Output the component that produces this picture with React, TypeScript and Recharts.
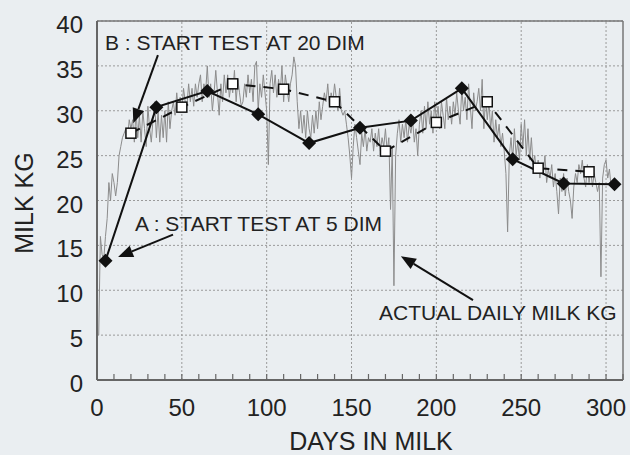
import React from 'react';
import { LineChart, Line, XAxis, YAxis, CartesianGrid, ReferenceLine } from 'recharts';

// actual daily milk kg, day 1..303
const dailyKg = [
  5, 16, 14, 13.5, 16, 18, 22, 20, 23, 22, 20.5, 22, 25, 26, 27, 27.5, 28, 27, 29, 28,
  29, 26.5, 30, 27, 29.5, 26.5, 30, 28, 26, 30.5, 28, 26.5, 29, 31, 27, 30, 26.5, 29.5, 27, 30, 26.5, 31, 28, 30,
  31, 29.5, 32, 30, 31.5, 30, 32.5, 31, 30.5, 33, 31, 32.5, 30.5, 33, 31.5, 33,
  34, 31, 33, 32, 35, 31.5, 33, 30, 32, 34.5, 32, 29.5, 33, 31, 34,
  32, 34, 31.5, 33, 32, 34.5, 31, 33.5, 32, 30.5, 31, 33, 31.5, 34, 32,
  33.5, 31, 35, 35.5, 30, 33, 31.5, 34, 32, 30, 24, 33, 34.5, 32, 34,
  31.5, 33.5, 32, 35, 31, 34, 32.5, 31, 33, 34, 36, 35, 31, 28, 30,
  27.5, 29.5, 27, 30, 28, 27, 29.5, 27.5, 30, 28, 31, 29, 30.5, 32, 31,
  33, 30.5, 32, 31, 33, 31.5, 30, 32.5, 30, 29.5, 30, 28.5, 27, 25, 22.5,
  26, 28.5, 27, 25.5, 24, 27.5, 26, 28, 25.5, 27, 26.5, 28, 25.5, 27.5, 26,
  28, 25.5, 27, 26, 28, 25.5, 27, 19, 26, 10.5, 25, 27.5, 29, 26.5, 28.5,
  27, 29, 26.5, 28.5, 27.5, 29, 26.5, 28, 25, 28.5, 30, 27.5, 30.5, 28, 31,
  28.5, 30, 27.5, 31, 29, 30.5, 28, 31, 29.5, 28, 31.5, 29, 30.5, 28.5, 31,
  29.5, 32, 30, 28.5, 32.5, 30, 31.5, 29, 33, 30.5, 28, 32, 30, 31, 32.5,
  30, 33.5, 28, 31.5, 29, 31, 28, 30, 26.5, 29, 27, 28.5, 26, 27.5, 25.5,
  23, 16.5, 25, 27, 24.5, 28, 25, 26.5, 24.5, 28.5, 26, 29, 25, 28, 24.5,
  27, 24, 25, 23, 24.5, 22.5, 24, 23, 25, 22, 23.5, 22.5, 24, 21.5, 23,
  21, 18.5, 22.5, 21, 23, 20.5, 22.5, 21, 20, 18, 21.5, 23, 22, 24, 23,
  24.5, 22.5, 21.5, 24, 22, 23.5, 21.5, 23, 22, 21, 22, 11.5, 22.5, 24, 24.5,
  22.5, 23.5, 21.5,
];

// A : test every 30 days starting at 5 DIM
const testDaysA = [5, 35, 65, 95, 125, 155, 185, 215, 245, 275, 305];
const testKgA = [13.3, 30.4, 32.2, 29.6, 26.4, 28.1, 28.9, 32.5, 24.6, 21.9, 21.8];

// B : test every 30 days starting at 20 DIM
const testDaysB = [20, 50, 80, 110, 140, 170, 200, 230, 260, 290];
const testKgB = [27.5, 30.4, 33, 32.4, 31, 25.5, 28.7, 31, 23.6, 23.2];

const xTicks = [0, 10, 20, 30, 40, 50, 60, 70, 80, 90, 100, 110, 120, 130, 140, 150, 160, 170, 180, 190, 200, 210, 220, 230, 240, 250, 260, 270, 280, 290, 300, 310];
const xMajor = [50, 100, 150, 200, 250, 300];
const yTicks = [0, 5, 10, 15, 20, 25, 30, 35, 40];

const daily = dailyKg.map((kg, i) => ({ day: i + 1, kg }));
const seriesA = testDaysA.map((day, i) => ({ day, kg: testKgA[i] }));
const seriesB = testDaysB.map((day, i) => ({ day, kg: testKgB[i] }));

const FONT = '"Liberation Sans", Arial, sans-serif';
const TEXT = '#222';

const Diamond = (props: any) => {
  const { cx, cy } = props;
  if (cx == null || cy == null) return null;
  const r = 7;
  return <polygon points={`${cx},${cy - r} ${cx + r},${cy} ${cx},${cy + r} ${cx - r},${cy}`} fill="#111" />;
};

const Square = (props: any) => {
  const { cx, cy } = props;
  if (cx == null || cy == null) return null;
  return <rect x={cx - 5} y={cy - 5} width={10} height={10} fill="#fff" stroke="#111" strokeWidth={1.5} />;
};

const XTick = (props: any) => {
  const { x, y, payload } = props;
  const v = payload.value;
  return (
    <g>
      <line x1={x} y1={y} x2={x} y2={y - 6} stroke="#666" strokeWidth={1.2} />
      {v % 50 === 0 && (
        <text x={x} y={y + 36} textAnchor="middle" fontSize={24} fontFamily={FONT} fill={TEXT}>
          {v}
        </text>
      )}
    </g>
  );
};

const YTick = (props: any) => {
  const { x, y, payload } = props;
  return (
    <text x={x - 14} y={y + 12} textAnchor="end" fontSize={24} fontFamily={FONT} fill={TEXT}>
      {payload.value}
    </text>
  );
};

const Arrow = (props: any) => {
  const { x1, y1, x2, y2 } = props;
  if (x1 == null) return null;
  const a = Math.atan2(y2 - y1, x2 - x1);
  const len = 15;
  const w = 6;
  const bx = x2 - len * Math.cos(a);
  const by = y2 - len * Math.sin(a);
  const px = -Math.sin(a) * w;
  const py = Math.cos(a) * w;
  return (
    <g>
      <line x1={x1} y1={y1} x2={bx} y2={by} stroke="#111" strokeWidth={2} />
      <polygon points={`${x2},${y2} ${bx + px},${by + py} ${bx - px},${by - py}`} fill="#111" />
    </g>
  );
};

export default function App() {
  return (
    <div style={{ position: 'absolute', left: 0, top: 0, width: 630, height: 455, background: '#eaeef1' }}>
      <LineChart width={630} height={455} margin={{ top: 21, right: 7, left: 37, bottom: 35 }}>
        <CartesianGrid vertical={false} stroke="#9a9a9a" strokeDasharray="2 2" />
        {xMajor.map((d) => (
          <ReferenceLine key={d} x={d} stroke="#9a9a9a" strokeDasharray="2 2" />
        ))}
        <ReferenceLine y={40} stroke="#777" strokeWidth={1.5} />
        <ReferenceLine x={310} stroke="#777" strokeWidth={1.5} />
        <XAxis
          type="number"
          dataKey="day"
          domain={[0, 310]}
          ticks={xTicks}
          interval={0}
          allowDataOverflow
          height={40}
          tickSize={0}
          tickMargin={0}
          tickLine={false}
          axisLine={{ stroke: '#666', strokeWidth: 2 }}
          tick={<XTick />}
        />
        <YAxis
          type="number"
          domain={[0, 40]}
          ticks={yTicks}
          interval={0}
          width={60}
          tickSize={0}
          tickMargin={0}
          tickLine={false}
          axisLine={{ stroke: '#666', strokeWidth: 2 }}
          tick={<YTick />}
        />
        <Line data={daily} dataKey="kg" type="linear" stroke="#8c8c8c" strokeWidth={1} dot={false} isAnimationActive={false} />
        <Line
          data={seriesB}
          dataKey="kg"
          type="linear"
          stroke="#111"
          strokeWidth={2}
          strokeDasharray="10 8"
          dot={<Square />}
          isAnimationActive={false}
        />
        <Line data={seriesA} dataKey="kg" type="linear" stroke="#111" strokeWidth={2} dot={<Diamond />} isAnimationActive={false} />
        <ReferenceLine segment={[{ x: 35.9, y: 36.2 }, { x: 21.4, y: 28.6 }]} shape={<Arrow />} />
        <ReferenceLine segment={[{ x: 44.8, y: 16.2 }, { x: 12.4, y: 13.7 }]} shape={<Arrow />} />
        <ReferenceLine segment={[{ x: 221.6, y: 8.9 }, { x: 179.1, y: 13.8 }]} shape={<Arrow />} />
      </LineChart>
      <svg width={630} height={455} style={{ position: 'absolute', left: 0, top: 0, pointerEvents: 'none' }}>
        <g fontFamily={FONT} fill={TEXT}>
          <text x={105} y={50} fontSize={21}>B : START TEST AT 20 DIM</text>
          <text x={135} y={231} fontSize={21}>A : START TEST AT 5 DIM</text>
          <text x={379} y={320} fontSize={21}>ACTUAL DAILY MILK KG</text>
          <text x={371} y={450} fontSize={25} textAnchor="middle">DAYS IN MILK</text>
          <text x={33} y={203} fontSize={25} textAnchor="middle" transform="rotate(-90 33 203)">MILK KG</text>
        </g>
      </svg>
    </div>
  );
}
